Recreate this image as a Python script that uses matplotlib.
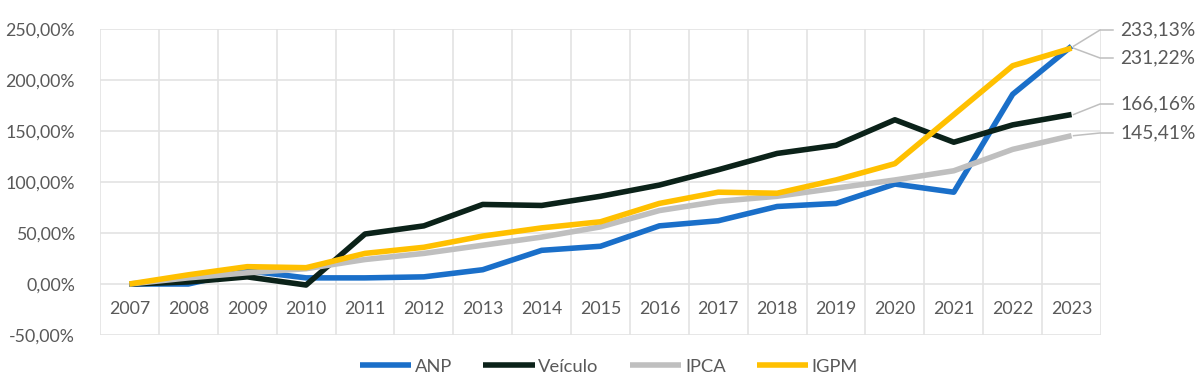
import matplotlib
matplotlib.use("Agg")
import matplotlib.pyplot as plt
from matplotlib.lines import Line2D

years = [str(y) for y in range(2007, 2024)]
anp = [0, 0, 13, 6, 6, 7, 14, 33, 37, 57, 62, 76, 79, 98, 90, 186, 233.13]
veiculo = [0, 2, 7, -1, 49, 57, 78, 77, 86, 97, 112, 128, 136, 161, 139, 156, 166.16]
ipca = [0, 6, 11, 15, 24, 30, 38, 46, 56, 72, 81, 86, 94, 102, 111, 132, 145.41]
igpm = [0, 9, 17, 16, 30, 36, 47, 55, 61, 79, 90, 89, 102, 118, 166, 214, 231.22]

series = [
    ("ANP", anp, "#1a6fc9"),
    ("Veículo", veiculo, "#0b2219"),
    ("IPCA", ipca, "#bfbfbf"),
    ("IGPM", igpm, "#ffc000"),
]

plt.rcParams["font.family"] = ["Lato", "DejaVu Sans"]
txt = "#595959"
grid = "#e3e3e3"

fig = plt.figure(figsize=(12, 3.92), dpi=100)
ax = fig.add_axes([100 / 1200, 1 - 335 / 392, 1001 / 1200, 306 / 392])

x = list(range(len(years)))
for name, vals, col in series:
    ax.plot(x, vals, color=col, lw=4, label=name, solid_capstyle="butt", zorder=3)

ax.set_xlim(-0.5, len(years) - 0.5)
ax.set_ylim(-50, 250)
ax.set_yticks(range(-50, 251, 50))
ax.set_yticklabels([f"{v:.2f}%".replace(".", ",") for v in range(-50, 251, 50)])
ax.tick_params(axis="y", length=0, pad=18, labelsize=12.8, labelcolor=txt)
ax.set_xticks([])
for s in ax.spines.values():
    s.set_visible(False)

for v in range(-50, 251, 50):
    ax.axhline(v, color=grid, lw=1.2, zorder=1)
for i in range(len(years) + 1):
    ax.axvline(i - 0.5, color=grid, lw=1.2, zorder=1)

for i, yr in enumerate(years):
    ax.text(i, -25, yr, ha="center", va="center", fontsize=12.8, color=txt)

# end labels with leader lines
end_labels = [(anp[-1], 30), (igpm[-1], 58), (veiculo[-1], 104), (ipca[-1], 133)]
fig.canvas.draw()
for val, ly in end_labels:
    px, py = ax.transData.transform((len(years) - 1, val))
    yy = 392 - ly
    fig.add_artist(Line2D([px + 2, 1100, 1113], [py, yy, yy], color="#bfbfbf", lw=1.1,
                          transform=None))
    fig.text(1120 / 1200, yy / 392, f"{val:.2f}%".replace(".", ","), ha="left",
             va="center", fontsize=13.8, color=txt)

fig.legend(loc="center", bbox_to_anchor=(609 / 1200, 0.064), ncol=4, frameon=False,
           fontsize=13.2, labelcolor=txt, handlelength=2.8, handletextpad=0.2,
           columnspacing=1.7)

fig.savefig("out.png", dpi=100)
